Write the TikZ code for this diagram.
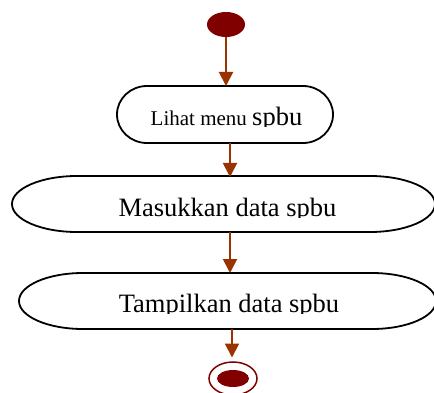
\documentclass[tikz,border=0pt]{standalone}
\usepackage{fontspec}
\setmainfont{Liberation Serif}
\usetikzlibrary{arrows.meta,shapes.geometric}

\definecolor{flowarrow}{HTML}{993300}
\definecolor{nodered}{HTML}{800000}

\tikzset{
  boxline/.style={draw=black, line width=1.8pt, fill=white},
  flow/.style={draw=flowarrow, line width=2pt,
    -{Triangle[width=14pt,length=14pt]}},
  frame/.style={inner sep=0pt, outer sep=0pt, draw=none},
}

% activity box with elliptical ends: name, left, top, right, bottom, end radius
% (coordinates in pt, y measured downwards)
\newcommand\actbox[6]{%
  \pgfmathsetmacro\boxry{(#5-#3)/2}%
  \path[boxline] ({#2+#6},-#3) -- ({#4-#6},-#3)
    arc[start angle=90, end angle=-90, x radius=#6pt, y radius=\boxry pt]
    -- ({#2+#6},-#5)
    arc[start angle=270, end angle=90, x radius=#6pt, y radius=\boxry pt]
    -- cycle;
  \node[frame, minimum width={(#4-#2)*1pt}, minimum height={(#5-#3)*1pt}]
    (#1) at ({(#2+#4)/2},{-(#3+#5)/2}) {};%
}

\begin{document}
\begin{tikzpicture}[x=1pt, y=1pt]
  \useasboundingbox (0,0) rectangle (434,-393);
  \clip (0,0) rectangle (434,-393);

  % start node
  \node[frame, fill=nodered, ellipse, minimum width=38pt, minimum height=25pt]
    (start) at (226,-24.5) {};

  % activities
  \actbox{lihat}{117}{86}{333}{143}{30}
  \actbox{masuk}{12}{176}{435}{232}{65}
  \actbox{tampil}{19}{273}{436}{329}{64}

  % labels, cut off just below the baseline
  \begin{scope}
    \clip (117,-86) rectangle (333,-127);
    \node[anchor=base, inner sep=0pt] (t1) at (226.5,-126)
      {\fontsize{21}{24}\selectfont Lihat menu \fontsize{26.5}{30}\selectfont spbu};
  \end{scope}
  \begin{scope}
    \clip (12,-176) rectangle (435,-217.5);
    \node[anchor=base, inner sep=0pt] (t2) at (227.5,-216.5)
      {\fontsize{26.5}{30}\selectfont Masukkan data spbu};
  \end{scope}
  \begin{scope}
    \clip (19,-273) rectangle (436,-313.5);
    \node[anchor=base, inner sep=0pt] (t3) at (229,-312.5)
      {\fontsize{26.5}{30}\selectfont Tampilkan data spbu};
  \end{scope}

  % end node
  \node[frame, ellipse, draw=nodered, line width=1.5pt, fill=white,
    minimum width=48pt, minimum height=33pt] (stop) at (233,-378.5) {};
  \node[frame, ellipse, fill=nodered, minimum width=32pt, minimum height=17pt]
    (stopdot) at (233,-378.5) {};

  % connector end points
  \coordinate (a1s) at (226,-37);   \coordinate (a1e) at (226,-86);
  \coordinate (a2s) at (230,-143);  \coordinate (a2e) at (230,-177);
  \coordinate (a3s) at (230,-232);  \coordinate (a3e) at (230,-273);
  \coordinate (a4s) at (232,-329);  \coordinate (a4e) at (232,-357.5);

  \draw[flow] (start.south |- a1s) -- (a1e);
  \draw[flow] (a2s) -- (a2e);
  \draw[flow] (a3s) -- (a3e);
  \draw[flow] (a4s) -- (a4e);
\end{tikzpicture}
\end{document}
